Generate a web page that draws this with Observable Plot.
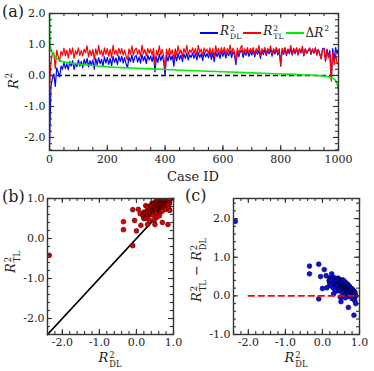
<!DOCTYPE html>
<html><head><meta charset="utf-8">
<script src="https://cdn.jsdelivr.net/npm/d3@7"></script>
<script src="https://cdn.jsdelivr.net/npm/@observablehq/plot@0.6"></script>
<style>
body{margin:0;background:#fff}
#wrap{position:relative;width:374px;height:371px;font-family:"DejaVu Serif",serif;color:#222;overflow:hidden}
#wrap svg{position:absolute;left:0;top:0}
.lab{position:absolute;white-space:nowrap;font-size:13px;line-height:1}
.rot{transform:translate(-50%,-50%) rotate(-90deg)}
.hor{transform:translate(-50%,-50%)}
.ss{display:inline-flex;flex-direction:column;font-size:0.64em;line-height:1.05;vertical-align:4px;margin-left:1px;font-style:normal}
.sp{font-size:0.64em;vertical-align:6px;line-height:0;margin-left:1px}
.pan{position:absolute;font-size:16px;line-height:1}
#legend{position:absolute;left:200px;top:25px;display:flex;align-items:center;font-size:12px;line-height:1}
#legend .bar{display:inline-block;width:18px;height:2px;margin-right:2px}
#legend .txt{margin-right:2px}
</style></head>
<body><div id="wrap"></div>
<script>
// ---------- data ----------
const caseIds = d3.range(0, 1001, 5);
const r2DL = [
-2.35,-0.35,-0.10,0.05,-0.35,0.25,0.10,-0.05,0.30,0.20,
0.42,0.22,0.38,0.18,0.45,0.30,0.48,0.20,0.40,0.28,
0.50,0.30,0.45,0.25,0.52,0.36,0.55,0.28,0.48,0.33,
0.50,0.20,0.55,0.34,0.58,0.38,0.52,0.30,0.60,0.40,
0.58,0.36,0.55,0.32,0.62,0.42,0.57,0.35,0.63,0.45,
0.62,0.40,0.58,0.38,0.25,0.60,0.45,0.66,0.42,0.59,
0.65,0.43,0.60,0.40,0.68,0.47,0.62,0.38,0.66,0.50,
0.63,0.45,0.67,0.12,0.60,0.42,0.69,0.48,0.64,0.44,
0.00,0.66,0.46,0.70,0.50,0.64,0.30,0.68,0.47,0.71,
0.52,0.66,0.45,0.70,0.55,0.72,0.50,0.67,0.58,0.73,
0.55,0.72,0.50,0.74,0.58,0.70,0.48,0.75,0.60,0.71,
0.57,0.76,0.52,0.73,0.45,0.77,0.60,0.74,0.55,0.78,
0.62,0.79,0.56,0.75,0.64,0.80,0.58,0.77,0.66,0.35,
0.78,0.60,0.76,0.82,0.58,0.77,0.65,0.81,0.62,0.78,
0.66,0.82,0.60,0.79,0.68,0.83,0.55,0.80,0.67,0.84,
0.64,0.80,0.70,0.85,0.62,0.81,0.69,0.86,0.66,0.82,
0.30,0.83,0.68,0.86,0.64,0.82,0.70,0.87,0.66,0.84,
0.70,0.87,0.66,0.84,0.72,0.88,0.63,0.85,0.71,0.80,
0.88,0.68,0.85,0.72,0.89,0.66,0.84,0.70,0.55,0.86,
0.88,0.48,0.85,0.62,0.80,-0.10,0.87,0.50,0.90,0.70,
0.85];
const r2TL = [
-0.42,0.42,0.72,0.73,0.22,0.82,0.62,0.45,0.78,0.66,
0.88,0.63,0.82,0.57,0.87,0.68,0.89,0.55,0.80,0.68,
0.89,0.64,0.80,0.63,0.85,0.73,0.96,0.60,0.82,0.64,
0.84,0.50,0.86,0.66,0.97,0.68,0.81,0.62,0.89,0.68,
0.87,0.62,0.84,0.58,0.97,0.69,0.82,0.63,0.88,0.70,
0.87,0.66,0.82,0.63,0.50,0.86,0.68,0.96,0.66,0.82,
0.88,0.68,0.83,0.62,0.98,0.70,0.84,0.63,0.87,0.72,
0.85,0.66,0.88,0.33,0.81,0.65,0.96,0.67,0.84,0.63,
0.19,0.85,0.66,0.88,0.68,0.83,0.50,0.86,0.66,0.96,
0.70,0.83,0.62,0.87,0.72,0.97,0.66,0.83,0.74,0.89,
0.71,0.87,0.65,0.97,0.73,0.85,0.63,0.89,0.75,0.85,
0.71,0.89,0.66,0.87,0.58,0.96,0.73,0.87,0.68,0.90,
0.74,0.91,0.67,0.87,0.75,0.98,0.69,0.88,0.77,0.46,
0.88,0.70,0.86,0.97,0.68,0.86,0.75,0.90,0.71,0.87,
0.75,0.90,0.68,0.87,0.76,0.97,0.63,0.87,0.74,0.91,
0.70,0.87,0.76,0.96,0.68,0.87,0.75,0.91,0.72,0.87,
0.35,0.88,0.73,0.91,0.69,0.86,0.75,0.97,0.70,0.88,
0.73,0.90,0.69,0.87,0.75,0.95,0.65,0.87,0.73,0.82,
0.89,0.70,0.86,0.73,0.89,0.66,0.83,0.69,0.53,0.84,
0.86,0.45,0.81,0.57,0.73,-0.18,0.75,0.35,0.70,0.40,
0.35];
// sorted ΔR² curve (green), read at selected case IDs
const deltaCase = [0,1,2,3,5,8,10,15,20,25,30,40,50,60,75,100,150,200,250,300,400,500,600,700,800,850,900,925,950,965,975,985,990,995,998,1000];
const deltaVal  = [1.95,1.3,1.1,0.95,0.85,0.78,0.74,0.67,0.61,0.56,0.52,0.47,0.44,0.42,0.40,0.37,0.32,0.28,0.255,0.235,0.195,0.155,0.12,0.085,0.05,0.035,0.015,0.0,-0.02,-0.04,-0.07,-0.12,-0.17,-0.27,-0.38,-0.5];
const diff = r2TL.map((t, i) => t - r2DL[i]);
const diagX = [-2.4, 1.0];
const zeroSegX = [-2.0, 1.0];
const ticksA_x = [0,200,400,600,800,1000];
const ticksR = [-2,-1,0,1,2];
const ticksRb = [-2,-1,0,1];
const ticksRc = [-1,0,1,2];

// ---------- layout ----------
const W = 374, H = 371;
const INK = "#333";
const fmt1 = d => d.toFixed(1);
const baseStyle = {background:"transparent", fontFamily:'"DejaVu Serif",serif', fontSize:"11px", color:"#222", overflow:"visible"};

function frameTicks(box, xMaj, xMin, yMaj, yMin) {
  const pw = box.r - box.l, ph = box.b - box.t;
  const o = {stroke: INK, strokeWidth: 1.1};
  const L = 5, l = 3;
  return [
    Plot.tickX(xMaj, {x: d => d, insetTop: ph - L, ...o}),
    Plot.tickX(xMaj, {x: d => d, insetBottom: ph - L, ...o}),
    Plot.tickX(xMin, {x: d => d, insetTop: ph - l, ...o}),
    Plot.tickX(xMin, {x: d => d, insetBottom: ph - l, ...o}),
    Plot.tickY(yMaj, {y: d => d, insetLeft: pw - L, ...o}),
    Plot.tickY(yMaj, {y: d => d, insetRight: pw - L, ...o}),
    Plot.tickY(yMin, {y: d => d, insetLeft: pw - l, ...o}),
    Plot.tickY(yMin, {y: d => d, insetRight: pw - l, ...o}),
    Plot.frame({stroke: INK, strokeWidth: 1.4})
  ];
}
function margins(box) {
  return {width: W, height: H, marginLeft: box.l, marginRight: W - box.r, marginTop: box.t, marginBottom: H - box.b};
}
const wrap = document.getElementById("wrap");

// ---- panel (a) ----
const A = {l: 49, r: 338, t: 13, b: 150};
const pa = Plot.plot({
  ...margins(A), style: baseStyle,
  x: {domain: [0, 1000]}, y: {domain: [-2.42, 2.0]},
  marks: [
    Plot.ruleY([0], {stroke: "black", strokeWidth: 1.3, strokeDasharray: "5,3"}),
    Plot.lineY(r2DL, {x: caseIds, stroke: "#0000ff", strokeWidth: 1.2, clip: true}),
    Plot.lineY(r2TL, {x: caseIds, stroke: "#ff0000", strokeWidth: 1.2, clip: true}),
    Plot.lineY(deltaVal, {x: deltaCase, stroke: "#00ee00", strokeWidth: 1.6, curve: "monotone-x", clip: true}),
    ...frameTicks(A, ticksA_x, d3.range(0, 1001, 50), ticksR, d3.range(-2.4, 2.01, 0.2)),
    Plot.axisX({ticks: ticksA_x, tickSize: 0, tickPadding: 5, tickFormat: d => String(d), label: null}),
    Plot.axisY({ticks: ticksR, tickSize: 0, tickPadding: 4, tickFormat: fmt1, label: null})
  ]
});
wrap.appendChild(pa);

// ---- panel (b) ----
const B = {l: 47, r: 173, t: 198, b: 334};
const pb = Plot.plot({
  ...margins(B), style: baseStyle,
  x: {domain: [-2.4, 1.0]}, y: {domain: [-2.4, 1.0]},
  marks: [
    Plot.line(diagX, {x: diagX, y: diagX, stroke: "black", strokeWidth: 1.8}),
    Plot.dot(r2DL, {x: r2DL, y: r2TL, r: 2.4, fill: "#dd0000", stroke: "#330000", strokeWidth: 0.6, clip: true}),
    ...frameTicks(B, ticksRb, d3.range(-2.4, 1.001, 0.2), ticksRb, d3.range(-2.4, 1.001, 0.2)),
    Plot.axisX({ticks: ticksRb, tickSize: 0, tickPadding: 4, tickFormat: fmt1, label: null}),
    Plot.axisY({ticks: ticksRb, tickSize: 0, tickPadding: 3, tickFormat: fmt1, label: null})
  ]
});
wrap.appendChild(pb);

// ---- panel (c) ----
const C = {l: 233, r: 359, t: 198, b: 334};
const pc = Plot.plot({
  ...margins(C), style: baseStyle,
  x: {domain: [-2.4, 1.0]}, y: {domain: [-1.0, 2.52]},
  marks: [
    Plot.dot(r2DL, {x: r2DL, y: diff, r: 2.4, fill: "#1010e0", stroke: "#000033", strokeWidth: 0.6, clip: true}),
    Plot.line(zeroSegX, {x: zeroSegX, y: zeroSegX.map(() => 0), stroke: "#ff0000", strokeWidth: 1.6, strokeDasharray: "6,4"}),
    ...frameTicks(C, ticksRb, d3.range(-2.4, 1.001, 0.2), ticksRc, d3.range(-1.0, 2.51, 0.2)),
    Plot.axisX({ticks: ticksRb, tickSize: 0, tickPadding: 4, tickFormat: fmt1, label: null}),
    Plot.axisY({ticks: ticksRc, tickSize: 0, tickPadding: 3, tickFormat: fmt1, label: null})
  ]
});
wrap.appendChild(pc);

// ---------- text labels ----------
const R = sub => `<i>R</i><span class="ss"><span>2</span><span>${sub}</span></span>`;
const R2 = `<i>R</i><span class="sp">2</span>`;
function addLabel(html, x, y, cls) {
  const d = document.createElement("div");
  d.className = "lab " + cls;
  d.style.left = x + "px"; d.style.top = y + "px";
  d.innerHTML = html;
  wrap.appendChild(d);
}
addLabel(R2, 13, 81, "rot");
addLabel("Case ID", 193, 176, "hor");
addLabel(R("TL"), 13, 262, "rot");
addLabel(R("DL"), 110, 360, "hor");
addLabel(`${R("TL")} &minus; ${R("DL")}`, 199, 270, "rot");
addLabel(R("DL"), 296, 360, "hor");

for (const [t, x, y] of [["(a)", 2, 4], ["(b)", 2, 189], ["(c)", 185, 188]]) {
  const d = document.createElement("div");
  d.className = "pan"; d.style.left = x + "px"; d.style.top = y + "px";
  d.textContent = t; wrap.appendChild(d);
}

const legendItems = [
  {color: "#0000ff", html: R("DL")},
  {color: "#ff0000", html: R("TL")},
  {color: "#00ee00", html: "&Delta;" + R2}
];
const lg = document.createElement("div");
lg.id = "legend";
lg.innerHTML = legendItems.map(it => `<span class="bar" style="background:${it.color}"></span><span class="txt">${it.html}</span>`).join("");
wrap.appendChild(lg);
</script>
</body></html>
